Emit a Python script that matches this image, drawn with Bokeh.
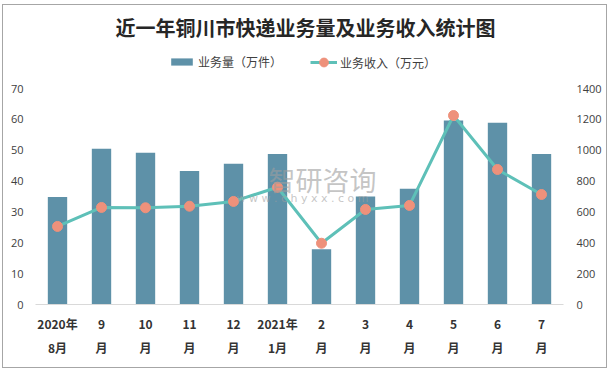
from bokeh.plotting import figure
from bokeh.layouts import column
from bokeh.models import (Range1d, LinearAxis, FactorRange, Legend, LegendItem, Label,
                          FixedTicker, ColumnDataSource)
from bokeh.embed import file_html
from bokeh.resources import INLINE

months = ["2020年\n8月", "9\n月", "10\n月", "11\n月", "12\n月", "2021年\n1月",
          "2\n月", "3\n月", "4\n月", "5\n月", "6\n月", "7\n月"]
volume = [34.8, 50.5, 49.2, 43.3, 45.6, 48.8, 17.9, 35.0, 37.5, 59.6, 58.9, 48.8]
revenue = [506, 629, 627, 637, 668, 760, 397, 616, 642, 1225, 875, 713]

title_text = "近一年铜川市快递业务量及业务收入统计图"
bar_name = "业务量（万件）"
line_name = "业务收入（万元）"

BAR = "#5E91A8"
LINE = "#5EC0B8"
MARK = "#EE917B"
CJK = "Noto Sans CJK SC"

W = 603

# ---------- header: title + legend (legend proxies lie outside the header's view) ----------
h = figure(width=W, height=72, x_range=FactorRange(*months, range_padding=0),
           y_range=Range1d(5000, 5072),
           output_backend="svg", toolbar_location=None,
           min_border_left=0, min_border_right=0, min_border_top=0, min_border_bottom=0)
h.axis.visible = False
h.grid.visible = False
h.outline_line_color = None
hsrc = ColumnDataSource(dict(m=months, v=volume, r=revenue))
hb = h.vbar(x="m", top="v", width=0.44, source=hsrc, fill_color=BAR, line_color=None)
hl = h.line(x="m", y="r", source=hsrc, line_color=LINE, line_width=3)
hp = h.scatter(x="m", y="r", source=hsrc, size=10, fill_color=MARK, line_color=MARK)
h.add_layout(Label(x=270, y=50, x_units="screen", y_units="screen", text=title_text,
                   text_font=CJK, text_font_style="bold", text_font_size="20px",
                   text_color="#262626", text_align="center", text_baseline="middle"))
common = dict(orientation="horizontal", glyph_width=27, label_standoff=3,
              padding=0, margin=0, border_line_color=None, background_fill_alpha=0,
              label_text_font=CJK, label_text_font_size="12px", label_text_color="#404040")
leg1 = Legend(items=[LegendItem(label=bar_name, renderers=[hb])],
              location=(133, 7), glyph_height=9, label_height=16, **common)
leg2 = Legend(items=[LegendItem(label=line_name, renderers=[hl, hp])],
              location=(275, 4), glyph_height=22, label_height=22, **common)
h.add_layout(leg1, "center")
h.add_layout(leg2, "center")

# ---------- main chart ----------
src = ColumnDataSource(dict(m=months, v=volume, r=revenue))

p = figure(width=W, height=290, x_range=FactorRange(*months, range_padding=0),
           y_range=Range1d(0, 70), output_backend="svg", toolbar_location=None,
           min_border_left=32, min_border_right=43, min_border_top=11, min_border_bottom=63)
p.extra_y_ranges = {"r": Range1d(0, 1400)}
p.outline_line_color = None
p.grid.visible = False

bars = p.vbar(x="m", top="v", width=0.44, source=src, fill_color=BAR, line_color=None)
ln = p.line(x="m", y="r", source=src, y_range_name="r", line_color=LINE, line_width=3)
pts = p.scatter(x="m", y="r", source=src, y_range_name="r", size=10,
                fill_color=MARK, line_color=MARK)

xa = p.xaxis[0]
xa.axis_line_color = "#D9D9D9"
xa.major_tick_line_color = None
xa.minor_tick_line_color = None
xa.major_label_text_font = CJK
xa.major_label_text_font_style = "bold"
xa.major_label_text_font_size = "12px"
xa.major_label_text_color = "#333333"
xa.major_label_text_line_height = 1.45
xa.major_label_standoff = 4

ya = p.yaxis[0]
ya.ticker = FixedTicker(ticks=list(range(0, 71, 10)))
ra = LinearAxis(y_range_name="r", ticker=FixedTicker(ticks=list(range(0, 1401, 200))))
p.add_layout(ra, "right")
for a in (ya, ra):
    a.axis_line_color = None
    a.major_tick_line_color = None
    a.minor_tick_line_color = None
    a.major_label_text_font = "Open Sans"
    a.major_label_text_font_size = "11px"
    a.major_label_text_color = "#404040"
ya.major_label_standoff = 6
ra.major_label_standoff = 7

# watermark
p.add_layout(Label(x=233, y=125, x_units="screen", y_units="screen", text="智研咨询",
                   text_font=CJK, text_font_size="27px", text_color="#9E9E9E", text_alpha=0.6,
                   text_baseline="middle"))
p.add_layout(Label(x=201, y=106, x_units="screen", y_units="screen",
                   text="w w w . c h y x x . c o m",
                   text_font="DejaVu Sans", text_font_size="11px", text_color="#9E9E9E",
                   text_alpha=0.6, text_baseline="middle"))

layout = column(h, p, spacing=0)
layout.styles = {"border": "1px solid #A6A6A6", "margin-left": "2px", "margin-top": "4px"}

open("out.html", "w").write(file_html(layout, INLINE))
